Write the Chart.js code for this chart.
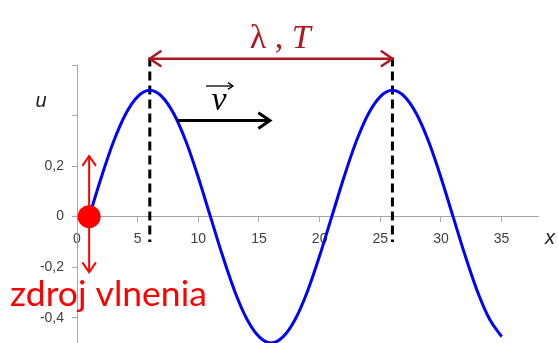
<!DOCTYPE html>
<html>
<head>
<meta charset="utf-8">
<script src="https://cdn.jsdelivr.net/npm/chart.js@4.4.1/dist/chart.umd.min.js"></script>
<style>
  html, body { margin: 0; padding: 0; background: #fff; }
  #wrap { width: 558px; height: 343px; }
</style>
</head>
<body>
<div id="wrap"><canvas id="wave"></canvas></div>
<script>
// wave: u (vertical) against x
const xValues = [1, 2, 3, 4, 5, 6, 7, 8, 9, 10, 11, 12, 13, 14, 15, 16, 17, 18,
    19, 20, 21, 22, 23, 24, 25, 26, 27, 28, 29, 30, 31, 32, 33, 34, 35];
const uValues = [0, 0.155, 0.295, 0.405, 0.475, 0.5, 0.475, 0.405, 0.295, 0.155,
    0, -0.155, -0.295, -0.405, -0.475, -0.5, -0.475, -0.405, -0.295, -0.155,
    0, 0.155, 0.295, 0.405, 0.475, 0.5, 0.475, 0.405, 0.295, 0.155,
    0, -0.155, -0.295, -0.405, -0.475];

const xTicks = [0, 5, 10, 15, 20, 25, 30, 35];
const xTickLabels = ["0", "5", "10", "15", "20", "25", "30", "35"];
const yTicks = [-0.4, -0.2, 0, 0.2, 0.4, 0.6];
const yTickLabels = ["-0,4", "-0,2", "0", "0,2", "", ""];

// annotations (data units)
const crestX = [6, 26];
const sourceX = 1;

const darkRed = "#b0161c";

function arrowHead(ctx, x, y, ang, len) {
    ctx.beginPath();
    ctx.moveTo(x - len * Math.cos(ang - 0.6), y - len * Math.sin(ang - 0.6));
    ctx.lineTo(x, y);
    ctx.lineTo(x - len * Math.cos(ang + 0.6), y - len * Math.sin(ang + 0.6));
    ctx.stroke();
}

const annotations = {
    id: "annotations",
    beforeDatasetsDraw(chart) {
        const ctx = chart.ctx;
        const xs = chart.scales.x, ys = chart.scales.y;
        ctx.save();
        // dashed lines at crests
        ctx.strokeStyle = "#000";
        ctx.lineWidth = 3;
        ctx.setLineDash([9, 5]);
        crestX.forEach(c => {
            ctx.beginPath();
            ctx.moveTo(xs.getPixelForValue(c), ys.getPixelForValue(0.63));
            ctx.lineTo(xs.getPixelForValue(c), ys.getPixelForValue(-0.1));
            ctx.stroke();
        });
        ctx.restore();
    },
    afterDatasetsDraw(chart) {
        const ctx = chart.ctx;
        const xs = chart.scales.x, ys = chart.scales.y;
        ctx.save();
        ctx.lineCap = "butt";

        // wavelength arrow
        const ay = ys.getPixelForValue(0.625);
        const ax1 = xs.getPixelForValue(crestX[0]);
        const ax2 = xs.getPixelForValue(crestX[1]);
        ctx.strokeStyle = darkRed;
        ctx.lineWidth = 2.5;
        ctx.beginPath();
        ctx.moveTo(ax1 + 1, ay);
        ctx.lineTo(ax2 - 1, ay);
        ctx.stroke();
        arrowHead(ctx, ax2, ay, 0, 14);
        arrowHead(ctx, ax1, ay, Math.PI, 14);

        ctx.fillStyle = darkRed;
        ctx.textBaseline = "alphabetic";
        ctx.textAlign = "left";
        const mid = (ax1 + ax2) / 2 + 9;
        const lam = "\u03bb , ";
        ctx.font = "34px 'Liberation Serif'";
        const w1 = ctx.measureText(lam).width;
        ctx.font = "italic 34px 'Liberation Serif'";
        const w2 = ctx.measureText("T").width;
        let tx = mid - (w1 + w2) / 2;
        ctx.font = "34px 'Liberation Serif'";
        ctx.fillText(lam, tx, 48);
        ctx.font = "italic 34px 'Liberation Serif'";
        ctx.fillText("T", tx + w1, 48);

        // velocity arrow
        const vy = ys.getPixelForValue(0.38);
        const vx1 = xs.getPixelForValue(8.3);
        const vx2 = xs.getPixelForValue(15.9);
        ctx.strokeStyle = "#000";
        ctx.lineWidth = 3;
        ctx.beginPath();
        ctx.moveTo(vx1, vy);
        ctx.lineTo(vx2 - 1, vy);
        ctx.stroke();
        arrowHead(ctx, vx2, vy, 0, 14);

        ctx.fillStyle = "#000";
        ctx.font = "italic 34px 'Liberation Serif'";
        ctx.textAlign = "center";
        const vc = xs.getPixelForValue(11.7);
        ctx.fillText("v", vc, 110);
        ctx.lineWidth = 1.3;
        ctx.beginPath();
        ctx.moveTo(vc - 13, 86);
        ctx.lineTo(vc + 14, 86);
        ctx.stroke();
        arrowHead(ctx, vc + 14, 86, 0, 6);

        // source: red dot with oscillation arrow
        const sx = xs.getPixelForValue(sourceX);
        const sTop = ys.getPixelForValue(0.24);
        const sBot = ys.getPixelForValue(-0.22);
        ctx.strokeStyle = "#ff0000";
        ctx.lineWidth = 2;
        ctx.beginPath();
        ctx.moveTo(sx, sTop + 1);
        ctx.lineTo(sx, sBot - 1);
        ctx.stroke();
        arrowHead(ctx, sx, sTop, -Math.PI / 2, 12);
        arrowHead(ctx, sx, sBot, Math.PI / 2, 12);
        ctx.fillStyle = "#ff0000";
        ctx.beginPath();
        ctx.arc(sx, ys.getPixelForValue(0), 11.5, 0, 2 * Math.PI);
        ctx.fill();

        // label fitted to the width it has in the picture
        ctx.textAlign = "left";
        ctx.font = "30px Lato";
        const fs = 30 * 197 / ctx.measureText("zdroj vlnenia").width;
        ctx.font = fs.toFixed(1) + "px Lato";
        ctx.fillText("zdroj vlnenia", 10, 306);

        // axis names
        ctx.fillStyle = "#222";
        ctx.font = "italic 20px 'Liberation Sans'";
        ctx.textAlign = "center";
        ctx.fillText("u", 41, 107);
        ctx.fillText("x", 550, 244);
        ctx.restore();
    }
};

new Chart(document.getElementById("wave"), {
    type: "line",
    data: {
        labels: xValues,
        datasets: [{
            data: xValues.map((x, i) => ({ x: x, y: uValues[i] })),
            borderColor: "#0000ff",
            borderWidth: 3,
            pointRadius: 0,
            cubicInterpolationMode: "monotone",
            fill: false,
            clip: false
        }]
    },
    options: {
        responsive: true,
        maintainAspectRatio: false,
        animation: false,
        events: [],
        layout: { padding: { left: 0, right: 20, top: 65, bottom: 0 } },
        plugins: { legend: { display: false }, tooltip: { enabled: false } },
        scales: {
            x: {
                type: "linear",
                position: { y: 0 },
                min: 0,
                max: 38,
                afterBuildTicks: s => { s.ticks = xTicks.map(v => ({ value: v })); },
                afterFit: s => { s.paddingLeft = 0; s.paddingRight = 0; },
                ticks: {
                    callback: (v, i) => xTickLabels[i],
                    color: "#404040",
                    font: { family: "'Liberation Sans'", size: 14 },
                    padding: 9,
                    maxRotation: 0
                },
                grid: { drawOnChartArea: false, drawTicks: true, tickLength: 5, color: "#a6a6a6" },
                border: { color: "#a6a6a6", width: 1 }
            },
            y: {
                min: -0.5,
                max: 0.6,
                afterBuildTicks: s => { s.ticks = yTicks.map(v => ({ value: v })); },
                afterFit: s => { s.width = 77; s.paddingTop = 0; s.paddingBottom = 0; },
                ticks: {
                    callback: (v, i) => yTickLabels[i],
                    color: "#404040",
                    font: { family: "'Liberation Sans'", size: 14 },
                    padding: 8
                },
                grid: { drawOnChartArea: false, drawTicks: true, tickLength: 5, color: "#a6a6a6" },
                border: { color: "#a6a6a6", width: 1 }
            }
        }
    },
    plugins: [annotations]
});
</script>
</body>
</html>
